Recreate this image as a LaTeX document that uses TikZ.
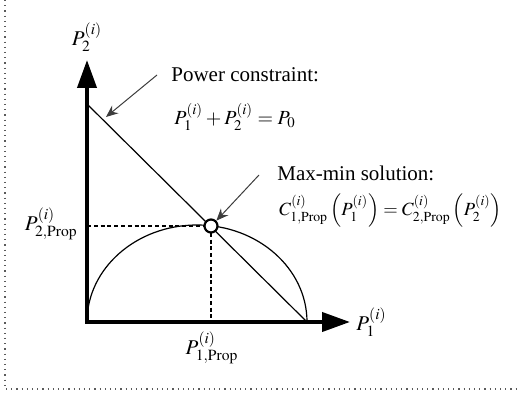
\documentclass[tikz,border=0pt]{standalone}
\usepackage{mathptmx}
\usepackage{fontspec}
\setmainfont{Liberation Serif}
\usepackage{amsmath}
\usetikzlibrary{arrows.meta, positioning, calc}
\definecolor{framegray}{RGB}{90,90,90}
\definecolor{pointergray}{RGB}{60,60,60}

\begin{document}
\begin{tikzpicture}[
    x=0.5pt, y=0.5pt,
    every node/.style={font=\fontsize{10.5}{12.5}\selectfont, inner sep=0pt},
    eqn/.style={anchor=west, font=\fontsize{#1}{11}\selectfont},
    axis/.style={line width=2pt, -{Triangle[length=14pt, width=9.5pt]}},
    curve/.style={line width=0.6pt},
    guide/.style={line width=1pt, dash pattern=on 2pt off 1.4pt},
    pointer/.style={-{Stealth[length=6pt, width=5pt]}, line width=0.5pt, pointergray},
    marker/.style={circle, draw, fill=white, line width=1.1pt, minimum size=6.5pt, inner sep=0pt},
    annot/.style={anchor=west, align=left}
]

% frame (left and bottom only)
\useasboundingbox (0,0) rectangle (520,396);
\draw[framegray, dotted, line width=0.6pt] (5,396) -- (5,7) -- (520,7);

% key points
\coordinate (orig) at (87,74);
\coordinate (ytip) at (87,336);
\coordinate (xtip) at (350,74);
\coordinate (ptop) at (87,292);
\coordinate (pbot) at (307,74);
\coordinate (sol)  at (211,170);

% constraint line and capacity curve
\draw[curve] (ptop) -- (pbot);
\draw[curve] (orig) arc[start angle=180, end angle=0, x radius=110, y radius=97];

% dashed guides to the solution
\draw[guide] (orig |- sol) -- (sol);
\draw[guide] (sol) -- (sol |- orig);

% axes
\draw[axis] (orig) -- (ytip);
\draw[axis] ([xshift=-1pt]orig) -- (xtip);

% solution marker
\node[marker] (solpt) at (sol) {};

% axis labels
\node (ylab)  at (87,359) {$P_2^{(i)}$};
\node[anchor=west] (xlab) at (356,74) {$P_1^{(i)}$};
\node[anchor=east] (p2prop) at (78,172) {$P_{2,\mathrm{Prop}}^{(i)}$};
\node (p1prop) at (212,48) {$P_{1,\mathrm{Prop}}^{(i)}$};

% annotations
\node[annot]    (pc)   at (171,321) {Power constraint:};
\node[eqn=10]   (pceq) at (174,279) {$P_1^{(i)} + P_2^{(i)} = P_0$};
\node[annot]    (mm)   at (277,223) {Max-min solution:};
\node[eqn=9.3]  (mmeq) at (279,185) {$C_{1,\mathrm{Prop}}^{(i)}\left(P_1^{(i)}\right) = C_{2,\mathrm{Prop}}^{(i)}\left(P_2^{(i)}\right)$};

% pointers
\coordinate (pcfrom) at ([xshift=-7pt]pc.west);
\coordinate (pcto) at (106,279);
\draw[pointer] (pcfrom) -- (pcto);
\coordinate (mmfrom) at ([xshift=-9pt,yshift=-1pt]mm.west);
\draw[pointer] (mmfrom) -- (solpt.north east);

\end{tikzpicture}
\end{document}
